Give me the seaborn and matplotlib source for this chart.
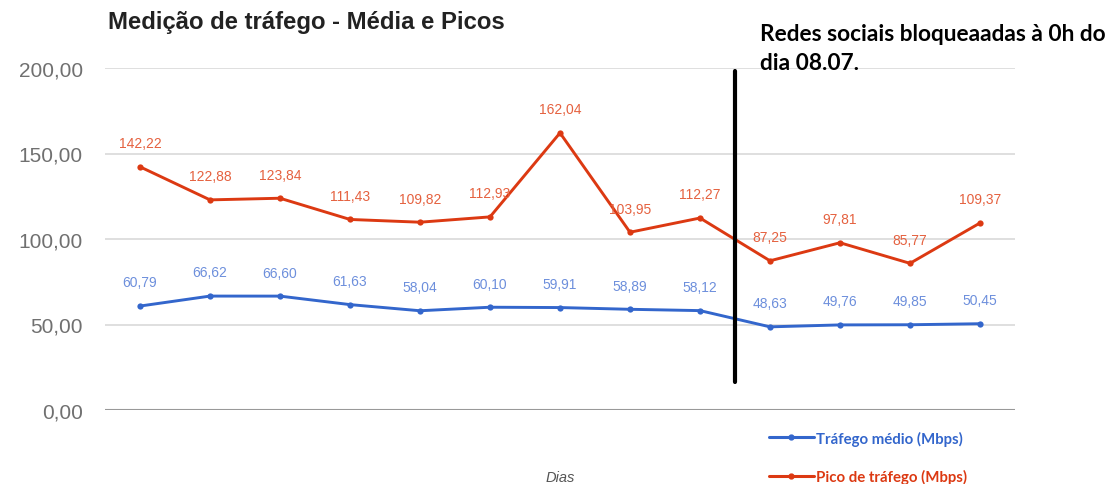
import matplotlib
matplotlib.use("Agg")
import matplotlib.pyplot as plt
import seaborn as sns
import pandas as pd
import numpy as np
from matplotlib.lines import Line2D

dias = list(range(13))
trafego_medio = [60.79, 66.62, 66.60, 61.63, 58.04, 60.10, 59.91, 58.89, 58.12, 48.63, 49.76, 49.85, 50.45]
pico_trafego = [142.22, 122.88, 123.84, 111.43, 109.82, 112.93, 162.04, 103.95, 112.27, 87.25, 97.81, 85.77, 109.37]
serie_medio = "Tráfego médio (Mbps)"
serie_pico = "Pico de tráfego (Mbps)"
y_ticks = [0, 50, 100, 150, 200]
bloqueio_pos = 8.5

blue = "#3366cc"
red = "#dc3912"
blue_lbl = "#6d8fdc"
red_lbl = "#e5613f"

df = pd.DataFrame({
    "Dias": dias * 2,
    "valor": trafego_medio + pico_trafego,
    "serie": [serie_medio] * len(dias) + [serie_pico] * len(dias),
})

sns.set_theme(style="white")
plt.rcParams['font.family'] = ['Liberation Sans', 'DejaVu Sans']

fig = plt.figure(figsize=(11.14, 4.85), dpi=100)
ax = fig.add_axes([105 / 1114, 1 - 411 / 485, 910 / 1114, 342 / 485])

sns.lineplot(data=df, x="Dias", y="valor", hue="serie", palette={serie_medio: blue, serie_pico: red},
             marker="o", markersize=4.5, markeredgewidth=0, linewidth=2.1, ax=ax, legend=False)

for x, v in zip(dias, trafego_medio):
    ax.annotate(f"{v:.2f}".replace(".", ","), (x, v), xytext=(0, 17), textcoords="offset points",
                ha="center", va="center", fontsize=10, color=blue_lbl)
for x, v in zip(dias, pico_trafego):
    ax.annotate(f"{v:.2f}".replace(".", ","), (x, v), xytext=(0, 17), textcoords="offset points",
                ha="center", va="center", fontsize=10, color=red_lbl)

ax.set_xlim(-0.5, 12.5)
ax.set_ylim(0, 200)
ax.set_yticks(y_ticks)
ax.set_yticklabels([f"{t:.2f}".replace(".", ",") for t in y_ticks], fontsize=15, color="#707070")
ax.set_xticks([])
ax.tick_params(axis="y", length=0, pad=16)
for s in ax.spines.values():
    s.set_visible(False)
for t in y_ticks[1:]:
    ax.axhline(t, color="#d9d9d9", linewidth=1.2, zorder=0)
ax.axhline(0, color="#999999", linewidth=1.5, zorder=0)
ax.set_xlabel("")
ax.set_ylabel("")

ax.plot([bloqueio_pos, bloqueio_pos], [16.5, 198], color="black", linewidth=3, zorder=5, clip_on=False)

fig.text(108 / 1114, 1 - 22 / 485, "Medição de tráfego - Média e Picos", fontsize=17.2, fontweight="bold",
         color="#222222", va="center", ha="left")
fig.text(760 / 1114, 1 - 24 / 485, "Redes sociais bloqueaadas à 0h do\ndia 08.07.", fontsize=16.3,
         fontweight="bold", color="black", va="top", ha="left", linespacing=1.45,
         family=["Lato", "DejaVu Sans"])
fig.text(560 / 1114, 1 - 478 / 485, "Dias", fontsize=10.5, style="italic", color="#555555",
         ha="center", va="center")

handles = [Line2D([], [], color=blue, marker="o", markersize=3.5, linewidth=2.2),
           Line2D([], [], color=red, marker="o", markersize=3.5, linewidth=2.2)]
leg = fig.legend(handles, [serie_medio, serie_pico], loc="upper left",
                 bbox_to_anchor=(755 / 1114, 1 - 418 / 485), frameon=False, labelcolor="linecolor",
                 handlelength=3.0, handletextpad=0.2, labelspacing=1.55,
                 prop={"family": ["Lato", "DejaVu Sans"], "weight": "bold", "size": 10.8})

fig.savefig("out.png", dpi=100, facecolor="white")
